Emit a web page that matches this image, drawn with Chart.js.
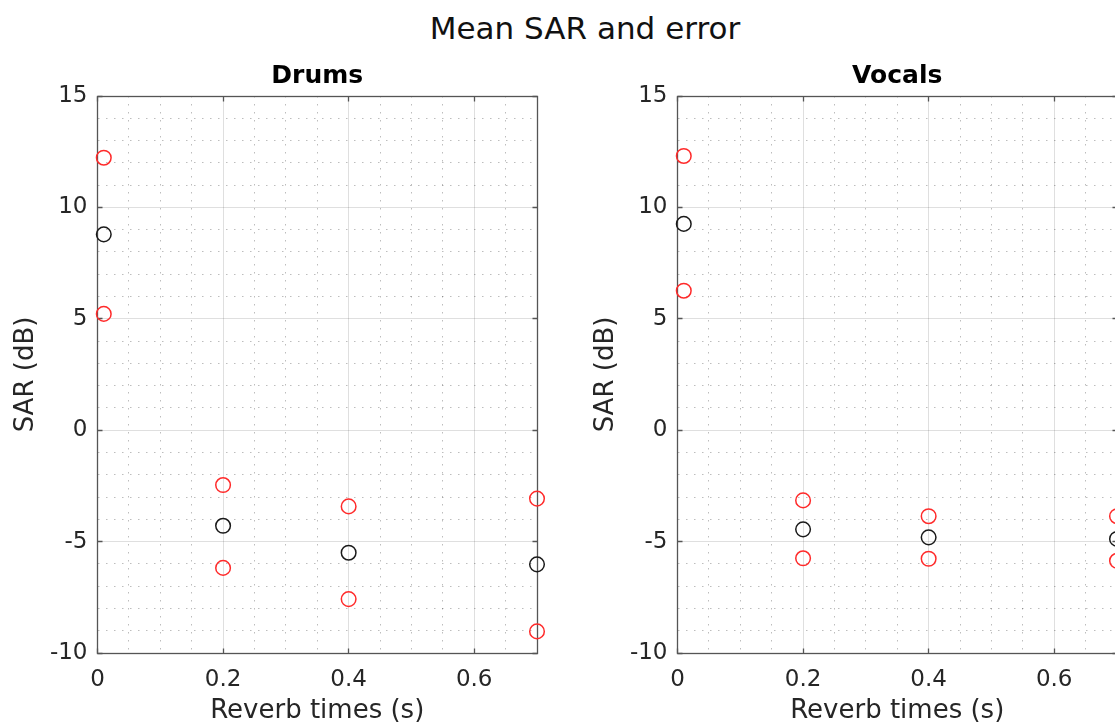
<!DOCTYPE html>
<html>
<head>
<meta charset="utf-8">
<title>Mean SAR and error</title>
<script src="https://cdn.jsdelivr.net/npm/chart.js@4.4.1/dist/chart.umd.min.js"></script>
<style>
  html, body { margin: 0; padding: 0; background: #fff; overflow: hidden; }
  #figure { position: relative; width: 1170px; height: 727px; }
  #suptitle {
    position: absolute; left: 0; top: 10px; width: 1170px;
    text-align: center; font: 31px "DejaVu Sans", sans-serif; line-height: 36px; color: #111;
  }
  canvas { position: absolute; top: 0; }
  #drumsChart { left: 0; }
  #vocalsChart { left: 580px; }
</style>
</head>
<body>
<div id="figure">
  <div id="suptitle">Mean SAR and error</div>
  <canvas id="drumsChart" width="585" height="727"></canvas>
  <canvas id="vocalsChart" width="585" height="727"></canvas>
</div>
<script>
// reverb times on the x axis (s)
const reverbTimes = [0.01, 0.2, 0.4, 0.7];

// SAR in dB: mean and mean +/- error
const drumsMean  = [8.79, -4.29, -5.50, -6.02];
const drumsUpper = [12.23, -2.46, -3.42, -3.07];
const drumsLower = [5.22, -6.18, -7.58, -9.03];

const vocalsMean  = [9.26, -4.45, -4.81, -4.88];
const vocalsUpper = [12.31, -3.15, -3.86, -3.86];
const vocalsLower = [6.26, -5.75, -5.77, -5.86];

// labelled (major) ticks; minor grid runs every 0.05 s and every 1 dB
const xTickLabels = [0, 0.2, 0.4, 0.6];
const yTickLabels = [-10, -5, 0, 5, 10, 15];

const AXIS_COLOR = '#262626';
const BOX_COLOR = '#555555';
const MAJOR_GRID = 'rgba(38,38,38,0.15)';
const MINOR_GRID = 'rgba(38,38,38,0.30)';
const TICK_LEN = 5;

Chart.defaults.font.family = '"DejaVu Sans", sans-serif';
Chart.defaults.color = AXIS_COLOR;

function isMajor(v, list) {
    return list.some(t => Math.abs(t - v) < 1e-9);
}

function gridColor(ctx, list) {
    return ctx.tick && isMajor(ctx.tick.value, list) ? MAJOR_GRID : MINOR_GRID;
}

function gridDash(ctx, list) {
    return ctx.tick && !isMajor(ctx.tick.value, list) ? [1.5, 6.5] : [];
}

// box round the axes with inward tick marks on all four sides
const axesBox = {
    id: 'axesBox',
    beforeDatasetsDraw(chart) {
        const { ctx, chartArea: a, scales: { x, y } } = chart;
        const L = Math.floor(a.left) + 0.5, R = Math.floor(a.right) + 0.5;
        const T = Math.floor(a.top) + 0.5, B = Math.floor(a.bottom) + 0.5;
        ctx.save();
        ctx.strokeStyle = BOX_COLOR;
        ctx.lineWidth = 1.3;
        ctx.beginPath();
        xTickLabels.forEach(v => {
            const px = Math.floor(x.getPixelForValue(v)) + 0.5;
            ctx.moveTo(px, B); ctx.lineTo(px, B - TICK_LEN);
            ctx.moveTo(px, T); ctx.lineTo(px, T + TICK_LEN);
        });
        yTickLabels.forEach(v => {
            const py = Math.floor(y.getPixelForValue(v)) + 0.5;
            ctx.moveTo(L, py); ctx.lineTo(L + TICK_LEN, py);
            ctx.moveTo(R, py); ctx.lineTo(R - TICK_LEN, py);
        });
        ctx.stroke();
        ctx.strokeRect(L, T, R - L, B - T);
        ctx.restore();
    }
};

function buildDatasets(mean, upper, lower) {
    const toPoints = vals => reverbTimes.map((t, i) => ({ x: t, y: vals[i] }));
    const marker = color => ({
        pointStyle: 'circle',
        pointRadius: 7.3,
        pointBorderWidth: 1.5,
        pointBorderColor: color,
        pointBackgroundColor: 'rgba(0,0,0,0)',
        showLine: false,
        clip: false
    });
    return [
        { label: 'Mean', data: toPoints(mean), ...marker('#1a1a1a') },
        { label: 'Mean + error', data: toPoints(upper), ...marker('#ff2a2a') },
        { label: 'Mean - error', data: toPoints(lower), ...marker('#ff2a2a') }
    ];
}

function makeChart(canvasId, title, datasets) {
    const ctx = document.getElementById(canvasId).getContext('2d');
    return new Chart(ctx, {
        type: 'scatter',
        data: { datasets },
        plugins: [axesBox],
        options: {
            responsive: false,
            animation: false,
            devicePixelRatio: 1,
            layout: { padding: { top: 0, left: 0, right: 48, bottom: 0 } },
            plugins: {
                legend: { display: false },
                tooltip: { enabled: false },
                title: {
                    display: true,
                    text: title,
                    fullSize: false,
                    color: '#000',
                    font: { size: 25, weight: 'bold' },
                    padding: { top: 61, bottom: 5 }
                }
            },
            scales: {
                x: {
                    type: 'linear',
                    min: 0,
                    max: 0.7,
                    afterFit: s => { s.height = 74; },
                    ticks: {
                        stepSize: 0.05,
                        autoSkip: false,
                        maxRotation: 0,
                        padding: 13,
                        font: { size: 23 },
                        color: AXIS_COLOR,
                        callback: v => isMajor(v, xTickLabels) ? String(+v.toFixed(2)) : ''
                    },
                    grid: { drawTicks: false, lineWidth: 1, color: c => gridColor(c, xTickLabels) },
                    border: { display: false, dash: c => gridDash(c, xTickLabels) },
                    title: {
                        display: true,
                        text: 'Reverb times (s)',
                        color: AXIS_COLOR,
                        font: { size: 26 },
                        padding: { top: 0, bottom: 0 }
                    }
                },
                y: {
                    type: 'linear',
                    min: -10,
                    max: 15,
                    afterFit: s => { s.width = 97.5; },
                    ticks: {
                        stepSize: 1,
                        autoSkip: false,
                        padding: 10,
                        font: { size: 23 },
                        color: AXIS_COLOR,
                        callback: v => isMajor(v, yTickLabels) ? String(v) : ''
                    },
                    grid: { drawTicks: false, lineWidth: 1, color: c => gridColor(c, yTickLabels) },
                    border: { display: false, dash: c => gridDash(c, yTickLabels) },
                    title: {
                        display: true,
                        text: 'SAR (dB)',
                        color: AXIS_COLOR,
                        font: { size: 26 },
                        padding: { top: 11, bottom: 0 }
                    }
                }
            }
        }
    });
}

makeChart('drumsChart', 'Drums', buildDatasets(drumsMean, drumsUpper, drumsLower));
makeChart('vocalsChart', 'Vocals', buildDatasets(vocalsMean, vocalsUpper, vocalsLower));
</script>
</body>
</html>
